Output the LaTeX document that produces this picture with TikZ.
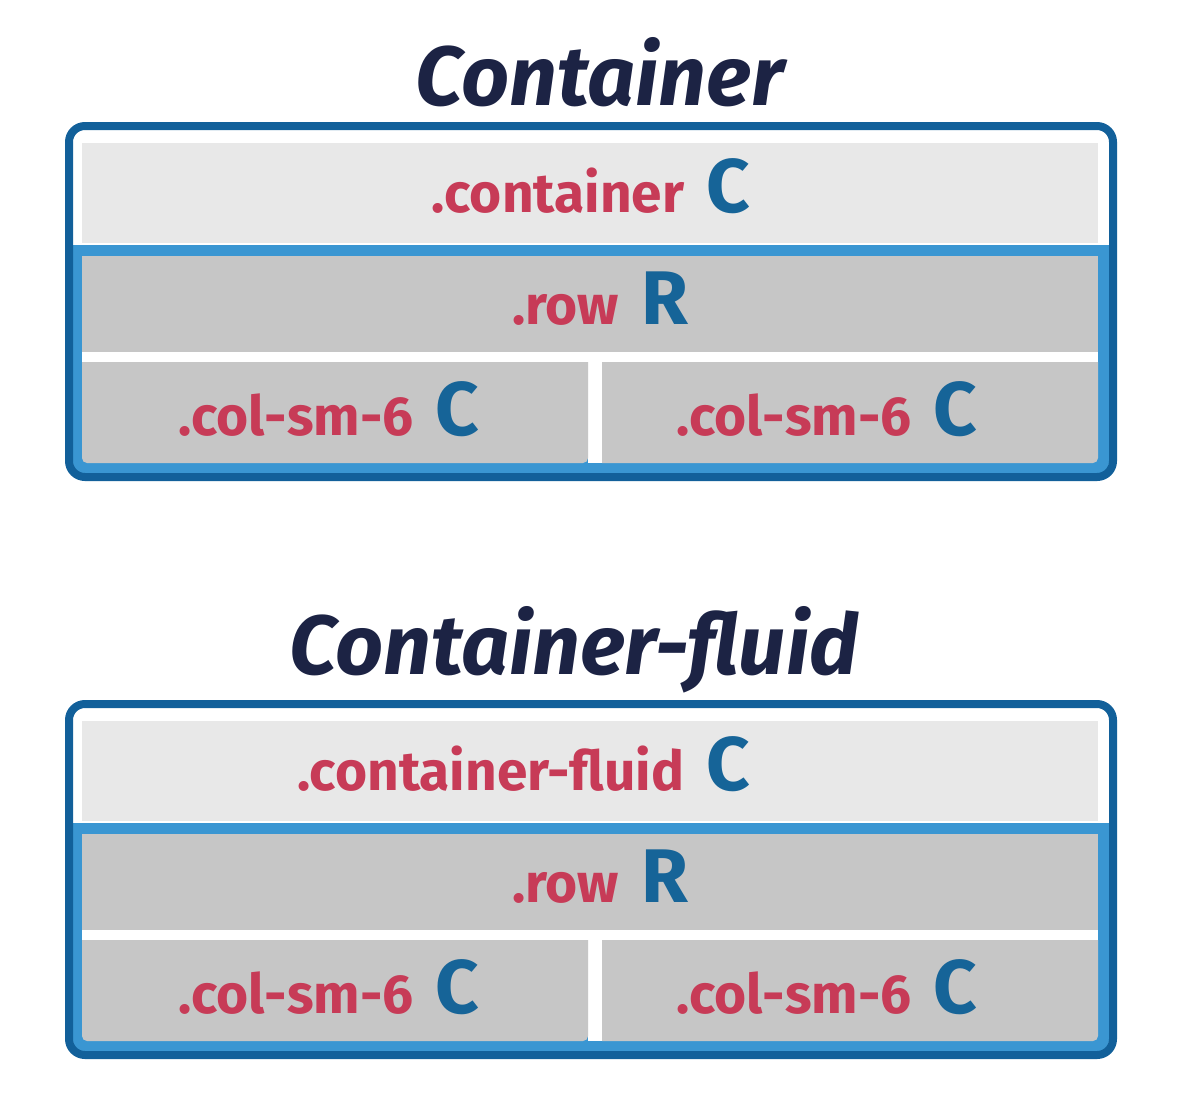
\documentclass[tikz,border=0pt]{standalone}
\usepackage{fontspec}
\setmainfont{Fira Sans}
\definecolor{dk}{HTML}{12609A}
\definecolor{lb}{HTML}{3A96D2}
\definecolor{g1}{HTML}{E8E8E8}
\definecolor{g2}{HTML}{C6C6C6}
\definecolor{rd}{HTML}{C73B57}
\definecolor{cb}{HTML}{166498}
\definecolor{nv}{HTML}{1C2344}
\newcommand{\lab}[2]{{\color{rd}\fontsize{55}{55}\selectfont\bfseries #1}\hspace{22pt}{\color{cb}\fontsize{76}{76}\selectfont\bfseries #2}}
\tikzset{box/.style={inner sep=0pt,outer sep=0pt},
 title/.style={text=nv,font=\fontsize{84}{84}\selectfont\bfseries\itshape},
 lbl/.style={anchor=base,inner sep=0pt}}
\begin{document}
\begin{tikzpicture}[x=1pt,y=-1pt]
\useasboundingbox (0,0) rectangle (1182,1096);
\foreach \dy/\t/\c/\n/\tx in {0/Container/.container/a/600,578/Container-fluid/.container-fluid/b/574}{
\begin{scope}[yshift=-\dy pt]
\node[title] (t\n) at (\tx,72) {\t};
\fill[lb] (73,245) [rounded corners=12]-- (73,475) -- (1109,475) [sharp corners]-- (1109,245) -- cycle;
\draw[dk,line width=8,rounded corners=16] (69,126) rectangle (1113,477);
\fill[g1] (82,143) rectangle (1098,243);
\fill[white] (82,352) rectangle (1098,362);
\fill[white] (588,352) rectangle (602,463);
\fill[g2] (82,256) rectangle (1098,352);
\fill[g2] (82,362) [rounded corners=5]-- (82,463) -- (588,463) [sharp corners]-- (588,362) -- cycle;
\fill[g2] (602,362) -- (602,463) [rounded corners=5]-- (1098,463) [sharp corners]-- (1098,362) -- cycle;
\node[lbl,anchor=base east] (c\n) at (750,212) {\lab{\c}{C}};
\node[lbl] (r\n) at (600,324) {\lab{.row}{R}};
\node[lbl] (l\n) at (329,435) {\lab{.col-sm-6}{C}};
\node[lbl] (m\n) at (827,435) {\lab{.col-sm-6}{C}};
\end{scope}}
\end{tikzpicture}
\end{document}
